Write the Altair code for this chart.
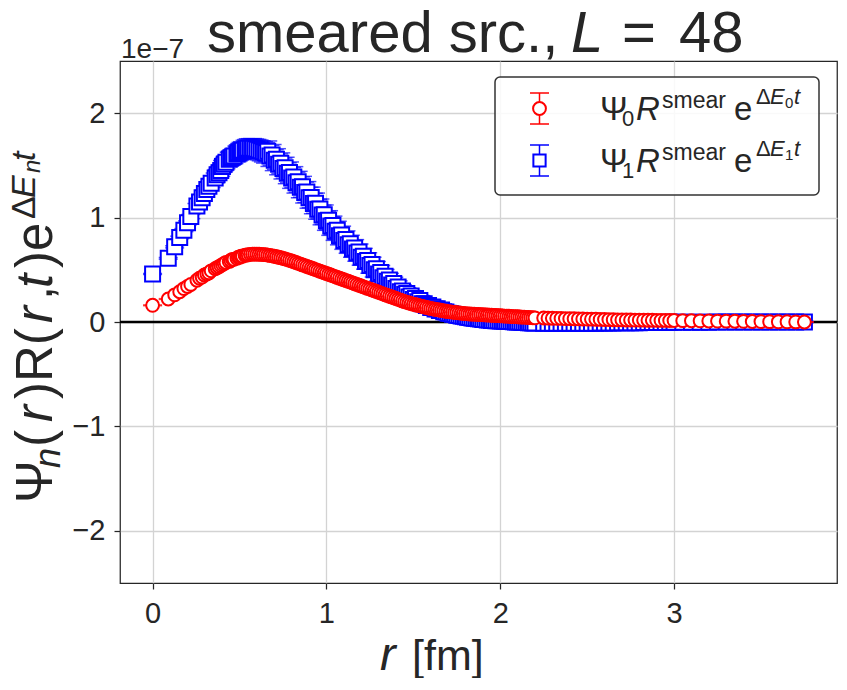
import altair as alt
import pandas as pd

# ---------------- data (values in units of 1e-7) ----------------
r_inner = [0.0, 0.09, 0.127, 0.156, 0.18, 0.201, 0.22, 0.255, 0.27, 0.285,
           0.298, 0.312, 0.324, 0.337, 0.36, 0.371, 0.382, 0.392, 0.402, 0.412,
           0.422, 0.441, 0.45, 0.459, 0.468, 0.485, 0.493, 0.501, 0.509, 0.517,
           0.532, 0.54]
r_mid = [0.55, 0.575, 0.6, 0.625, 0.65, 0.675, 0.7, 0.725, 0.75, 0.775,
         0.8, 0.825, 0.85, 0.875, 0.9, 0.925, 0.95, 0.975, 1.0, 1.025,
         1.05, 1.075, 1.1, 1.125, 1.15, 1.175, 1.2, 1.225, 1.25, 1.275,
         1.3, 1.325, 1.35, 1.375, 1.4, 1.425, 1.45, 1.475, 1.5, 1.525,
         1.55, 1.575, 1.6, 1.625, 1.65, 1.675, 1.7, 1.725, 1.75, 1.775,
         1.8, 1.825, 1.85, 1.875, 1.9, 1.925, 1.95, 1.975, 2.0, 2.025,
         2.05, 2.075, 2.1, 2.125, 2.15, 2.175, 2.2]
r_mid_b = [0.5625, 0.5875, 0.6125, 0.6375, 0.6625, 0.6875, 0.7125, 0.7375, 0.7625, 0.7875,
           0.8125, 0.8375, 0.8625, 0.8875, 0.9125, 0.9375, 0.9625, 0.9875, 1.0125, 1.0375,
           1.0625, 1.0875, 1.1125, 1.1375, 1.1625, 1.1875, 1.2125, 1.2375, 1.2625, 1.2875,
           1.3125, 1.3375, 1.3625, 1.3875, 1.4125, 1.4375, 1.4625, 1.4875, 1.5125, 1.5375,
           1.5625, 1.5875, 1.6125, 1.6375, 1.6625, 1.6875, 1.7125, 1.7375, 1.7625, 1.7875,
           1.8125, 1.8375, 1.8625, 1.8875, 1.9125, 1.9375, 1.9625, 1.9875, 2.0125, 2.0375,
           2.0625, 2.0875, 2.1125, 2.1375, 2.1625, 2.1875]
r_outer = [2.25, 2.3, 2.35, 2.4, 2.45, 2.5, 2.55, 2.6, 2.65, 2.7,
           2.75, 2.8, 2.85, 2.9, 2.95, 3.0, 3.05, 3.1, 3.15, 3.2,
           3.25, 3.3, 3.35, 3.4, 3.45, 3.5, 3.55, 3.6, 3.65, 3.7,
           3.75]
r_outer_b = [2.275, 2.325, 2.375, 2.425, 2.475, 2.525, 2.575, 2.625, 2.675, 2.725,
             2.775, 2.825, 2.875, 2.925, 2.975]

# Psi_0 R^smear e^{dE0 t}
psi0_inner = [0.16, 0.22, 0.26, 0.29, 0.32, 0.34, 0.36, 0.40, 0.42, 0.43,
              0.45, 0.46, 0.47, 0.49, 0.51, 0.52, 0.53, 0.54, 0.55, 0.56,
              0.57, 0.58, 0.59, 0.60, 0.60, 0.61, 0.62, 0.62, 0.63, 0.63,
              0.64, 0.64]
psi0_mid = [0.645, 0.65, 0.65, 0.648, 0.645, 0.638, 0.63, 0.62, 0.61, 0.598,
            0.585, 0.57, 0.555, 0.54, 0.525, 0.51, 0.495, 0.48, 0.465, 0.45,
            0.435, 0.42, 0.405, 0.39, 0.375, 0.36, 0.345, 0.33, 0.315, 0.30,
            0.285, 0.27, 0.255, 0.24, 0.225, 0.21, 0.195, 0.182, 0.17, 0.16,
            0.15, 0.14, 0.13, 0.122, 0.115, 0.107, 0.10, 0.095, 0.09, 0.085,
            0.08, 0.077, 0.075, 0.072, 0.07, 0.067, 0.065, 0.062, 0.06, 0.057,
            0.055, 0.052, 0.05, 0.047, 0.045, 0.042, 0.04]
psi0_mid_b = [0.648, 0.65, 0.649, 0.646, 0.641, 0.634, 0.625, 0.615, 0.604, 0.591,
              0.577, 0.562, 0.547, 0.532, 0.517, 0.502, 0.487, 0.472, 0.457, 0.442,
              0.427, 0.412, 0.397, 0.382, 0.367, 0.352, 0.337, 0.322, 0.307, 0.292,
              0.277, 0.262, 0.247, 0.232, 0.217, 0.202, 0.188, 0.176, 0.165, 0.155,
              0.145, 0.135, 0.126, 0.118, 0.111, 0.103, 0.097, 0.092, 0.087, 0.082,
              0.078, 0.076, 0.073, 0.071, 0.068, 0.066, 0.063, 0.061, 0.058, 0.056,
              0.053, 0.051, 0.048, 0.046, 0.043, 0.041]
psi0_outer = [0.038, 0.036, 0.034, 0.032, 0.03, 0.028, 0.026, 0.024, 0.022, 0.02,
              0.019, 0.018, 0.017, 0.016, 0.015, 0.014, 0.013, 0.012, 0.011, 0.01,
              0.009, 0.008, 0.007, 0.006, 0.005, 0.004, 0.003, 0.002, 0.002, 0.001,
              0.0]
psi0_outer_b = [0.037, 0.035, 0.033, 0.031, 0.029, 0.027, 0.025, 0.023, 0.021, 0.0195,
                0.0185, 0.0175, 0.0165, 0.0155, 0.0145]

err0_inner = [0.004, 0.004, 0.004, 0.004, 0.005, 0.005, 0.005, 0.005, 0.005, 0.005,
              0.006, 0.006, 0.006, 0.006, 0.006, 0.006, 0.007, 0.007, 0.007, 0.007,
              0.007, 0.007, 0.008, 0.008, 0.008, 0.008, 0.008, 0.008, 0.008, 0.008,
              0.009, 0.009]
err0_mid = [0.009, 0.009, 0.009, 0.01, 0.01, 0.01, 0.01, 0.01, 0.01, 0.01,
            0.01, 0.01, 0.01, 0.01, 0.01, 0.01, 0.01, 0.01, 0.01, 0.01,
            0.009, 0.009, 0.009, 0.009, 0.009, 0.009, 0.008, 0.008, 0.008, 0.008,
            0.008, 0.008, 0.007, 0.007, 0.007, 0.007, 0.007, 0.007, 0.006, 0.006,
            0.006, 0.006, 0.006, 0.006, 0.005, 0.005, 0.005, 0.005, 0.005, 0.005,
            0.005, 0.005, 0.004, 0.004, 0.004, 0.004, 0.004, 0.004, 0.004, 0.004,
            0.004, 0.004, 0.004, 0.004, 0.004, 0.004, 0.004]
err0_mid_b = [0.009, 0.009, 0.01, 0.01, 0.01, 0.01, 0.01, 0.01, 0.01, 0.01,
              0.01, 0.01, 0.01, 0.01, 0.01, 0.01, 0.01, 0.01, 0.01, 0.01,
              0.009, 0.009, 0.009, 0.009, 0.009, 0.008, 0.008, 0.008, 0.008, 0.008,
              0.008, 0.007, 0.007, 0.007, 0.007, 0.007, 0.007, 0.006, 0.006, 0.006,
              0.006, 0.006, 0.006, 0.005, 0.005, 0.005, 0.005, 0.005, 0.005, 0.005,
              0.005, 0.004, 0.004, 0.004, 0.004, 0.004, 0.004, 0.004, 0.004, 0.004,
              0.004, 0.004, 0.004, 0.004, 0.004, 0.004]
err0_outer = [0.004, 0.004, 0.004, 0.004, 0.003, 0.003, 0.003, 0.003, 0.003, 0.003,
              0.003, 0.003, 0.003, 0.003, 0.003, 0.003, 0.003, 0.003, 0.003, 0.003,
              0.002, 0.002, 0.002, 0.002, 0.002, 0.002, 0.002, 0.002, 0.002, 0.002,
              0.002]
err0_outer_b = [0.004, 0.004, 0.004, 0.004, 0.003, 0.003, 0.003, 0.003, 0.003, 0.003,
                0.003, 0.003, 0.003, 0.003, 0.003]

# Psi_1 R^smear e^{dE1 t}
psi1_inner = [0.46, 0.61, 0.72, 0.81, 0.88, 0.95, 1.01, 1.11, 1.15, 1.19,
              1.23, 1.27, 1.30, 1.33, 1.38, 1.41, 1.43, 1.45, 1.49, 1.51,
              1.53, 1.56, 1.57, 1.58, 1.59, 1.61, 1.62, 1.63, 1.64, 1.645,
              1.655, 1.66]
psi1_mid = [1.665, 1.665, 1.655, 1.64, 1.62, 1.59, 1.55, 1.51, 1.47, 1.425,
            1.38, 1.335, 1.29, 1.24, 1.19, 1.135, 1.08, 1.025, 0.97, 0.92,
            0.87, 0.825, 0.78, 0.74, 0.70, 0.66, 0.62, 0.58, 0.54, 0.50,
            0.46, 0.425, 0.39, 0.355, 0.32, 0.29, 0.265, 0.24, 0.215, 0.195,
            0.175, 0.157, 0.14, 0.125, 0.11, 0.097, 0.085, 0.075, 0.065, 0.057,
            0.05, 0.042, 0.035, 0.03, 0.025, 0.02, 0.015, 0.012, 0.01, 0.007,
            0.005, 0.002, 0.0, -0.002, -0.005, -0.007, -0.01]
psi1_mid_b = [1.665, 1.66, 1.648, 1.63, 1.635, 1.60, 1.56, 1.52, 1.478, 1.433,
              1.388, 1.343, 1.295, 1.245, 1.193, 1.138, 1.083, 1.028, 0.975, 0.925,
              0.878, 0.833, 0.79, 0.75, 0.71, 0.67, 0.63, 0.59, 0.55, 0.51,
              0.473, 0.438, 0.403, 0.368, 0.335, 0.298, 0.273, 0.248, 0.225, 0.205,
              0.176, 0.159, 0.143, 0.128, 0.114, 0.096, 0.082, 0.072, 0.063, 0.055,
              0.046, 0.039, 0.033, 0.028, 0.023, 0.018, 0.014, 0.011, 0.009, 0.006,
              0.004, 0.001, -0.001, -0.004, -0.006, -0.009]
psi1_outer = [-0.012, -0.013, -0.013, -0.013, -0.012, -0.012, -0.011, -0.01, -0.009, -0.008,
              -0.007, -0.006, -0.005, -0.005, -0.004, -0.003, -0.003, -0.002, -0.002, -0.002,
              -0.001, -0.001, -0.001, -0.001, 0.0, 0.0, 0.0, 0.0, 0.0, 0.0,
              0.0]
psi1_outer_b = [-0.012, -0.013, -0.013, -0.012, -0.012, -0.011, -0.01, -0.009, -0.008, -0.007,
                -0.006, -0.005, -0.005, -0.004, -0.003]

err1_inner = [0.005, 0.008, 0.01, 0.012, 0.015, 0.018, 0.02, 0.025, 0.028, 0.03,
              0.033, 0.036, 0.039, 0.042, 0.047, 0.05, 0.052, 0.055, 0.057, 0.06,
              0.062, 0.066, 0.068, 0.07, 0.072, 0.075, 0.077, 0.079, 0.08, 0.082,
              0.085, 0.087]
err1_mid = [0.09, 0.092, 0.094, 0.096, 0.098, 0.1, 0.1, 0.1, 0.1, 0.1,
            0.1, 0.1, 0.1, 0.1, 0.1, 0.098, 0.096, 0.094, 0.092, 0.09,
            0.088, 0.086, 0.084, 0.082, 0.08, 0.078, 0.076, 0.074, 0.072, 0.07,
            0.068, 0.066, 0.064, 0.062, 0.06, 0.058, 0.056, 0.054, 0.052, 0.05,
            0.049, 0.048, 0.047, 0.046, 0.045, 0.044, 0.043, 0.042, 0.041, 0.04,
            0.04, 0.039, 0.039, 0.038, 0.038, 0.037, 0.037, 0.036, 0.036, 0.035,
            0.035, 0.034, 0.034, 0.033, 0.033, 0.032, 0.032]
err1_mid_b = [0.091, 0.093, 0.095, 0.097, 0.099, 0.1, 0.1, 0.1, 0.1, 0.1,
              0.1, 0.1, 0.1, 0.1, 0.099, 0.097, 0.095, 0.093, 0.091, 0.089,
              0.087, 0.085, 0.083, 0.081, 0.079, 0.077, 0.075, 0.073, 0.071, 0.069,
              0.067, 0.065, 0.063, 0.061, 0.059, 0.057, 0.055, 0.053, 0.051, 0.05,
              0.049, 0.048, 0.047, 0.046, 0.045, 0.044, 0.043, 0.042, 0.041, 0.04,
              0.04, 0.039, 0.039, 0.038, 0.038, 0.037, 0.037, 0.036, 0.036, 0.035,
              0.035, 0.034, 0.034, 0.033, 0.033, 0.032]
err1_outer = [0.03, 0.029, 0.028, 0.027, 0.026, 0.025, 0.024, 0.022, 0.02, 0.019,
              0.018, 0.017, 0.016, 0.015, 0.014, 0.013, 0.012, 0.011, 0.01, 0.01,
              0.009, 0.009, 0.008, 0.008, 0.007, 0.007, 0.006, 0.006, 0.005, 0.005,
              0.005]
err1_outer_b = [0.03, 0.029, 0.028, 0.027, 0.026, 0.025, 0.023, 0.021, 0.02, 0.019,
                0.018, 0.017, 0.016, 0.015, 0.014]

x_ticks = [0, 1, 2, 3]
y_ticks = [-2, -1, 0, 1, 2]

# ---------------- build table ----------------
df = pd.DataFrame({
    "r": r_inner + r_mid + r_mid_b + r_outer + r_outer_b,
    "psi0": psi0_inner + psi0_mid + psi0_mid_b + psi0_outer + psi0_outer_b,
    "err0": err0_inner + err0_mid + err0_mid_b + err0_outer + err0_outer_b,
    "psi1": psi1_inner + psi1_mid + psi1_mid_b + psi1_outer + psi1_outer_b,
    "err1": err1_inner + err1_mid + err1_mid_b + err1_outer + err1_outer_b,
})
df = df.sort_values("r").reset_index(drop=True)
df["lo0"] = df["psi0"] - df["err0"]
df["hi0"] = df["psi0"] + df["err0"]
df["lo1"] = df["psi1"] - df["err1"]
df["hi1"] = df["psi1"] + df["err1"]

TXT = "#262626"
FONT = "Liberation Sans"

xs = alt.Scale(domain=[-0.1875, 3.9375], nice=False, zero=False)
ys = alt.Scale(domain=[-2.5, 2.5], nice=False, zero=False)
xax = alt.Axis(values=x_ticks, title=None, format="d", grid=True, labelPadding=10)
yax = alt.Axis(values=y_ticks, title=None, format="d", grid=True, labelPadding=9)


def X(field):
    return alt.X(f"{field}:Q", scale=xs, axis=xax)


def Y(field):
    return alt.Y(f"{field}:Q", scale=ys, axis=yax)


base = alt.Chart(df)

zero = alt.Chart(pd.DataFrame({"y0": [0]})).mark_rule(
    color="black", strokeWidth=2.5).encode(y=Y("y0"))


def series(val, lo, hi, color, shape, size):
    bars = base.mark_rule(color=color, strokeWidth=1.5).encode(
        x=X("r"), y=Y(lo), y2=alt.Y2(hi))
    cap_lo = base.mark_tick(color=color, orient="horizontal", size=19,
                            thickness=1.5).encode(x=X("r"), y=Y(lo))
    cap_hi = base.mark_tick(color=color, orient="horizontal", size=19,
                            thickness=1.5).encode(x=X("r"), y=Y(hi))
    pts = base.mark_point(shape=shape, filled=True, fill="white", stroke=color,
                          strokeWidth=2, size=size, opacity=1,
                          fillOpacity=1).encode(x=X("r"), y=Y(val))
    return [bars, cap_lo, cap_hi, pts]


layers = [zero]
layers += series("psi1", "lo1", "hi1", "blue", "square", 225)
layers += series("psi0", "lo0", "hi0", "red", "circle", 165)

one = pd.DataFrame({"k": [0]})


def txt(s, x, y, size, italic=False, angle=0, color=TXT):
    kw = dict(text=s, align="left", baseline="alphabetic", font=FONT,
              fontSize=size, color=color)
    if italic:
        kw["fontStyle"] = "italic"
    if angle:
        kw["angle"] = angle
    return alt.Chart(one).mark_text(**kw).encode(x=alt.value(x), y=alt.value(y))


# legend box and glyphs
legend_box = alt.Chart(one).mark_rect(
    fill="white", fillOpacity=0.85, stroke="#333333", strokeWidth=1.5,
    cornerRadius=5).encode(x=alt.value(375), x2=alt.value(699),
                           y=alt.value(16), y2=alt.value(134))
layers.append(legend_box)


def leg_glyph(cy, color, shape, size):
    out = []
    out.append(alt.Chart(one).mark_rule(color=color, strokeWidth=1.5).encode(
        x=alt.value(419.5), y=alt.value(cy - 15.5), y2=alt.value(cy + 15.5)))
    for dy in (-15.5, 15.5):
        out.append(alt.Chart(one).mark_rule(color=color, strokeWidth=1.5).encode(
            x=alt.value(410), x2=alt.value(429), y=alt.value(cy + dy)))
    out.append(alt.Chart(one).mark_point(
        shape=shape, filled=True, fill="white", stroke=color, strokeWidth=2,
        size=size, opacity=1).encode(x=alt.value(419.5), y=alt.value(cy)))
    return out


layers += leg_glyph(47.5, "red", "circle", 165)
layers += leg_glyph(99.5, "blue", "square", 150)

for sub, dy in (("0", 0), ("1", 52)):
    layers += [
        txt("Ψ", 480, 59 + dy, 33),
        txt(sub, 502, 65 + dy, 22),
        txt("R", 516, 59 + dy, 33, italic=True),
        txt("smear", 542, 47 + dy, 23),
        txt("e", 614, 59 + dy, 33),
        txt("Δ", 636, 43 + dy, 22),
        txt("E", 650, 43 + dy, 22, italic=True),
        txt(sub, 665, 47 + dy, 15),
        txt("t", 674, 43 + dy, 22, italic=True),
    ]

# title
layers += [
    txt("smeared src.,", 87, -9.5, 58),
    txt("L", 451, -9.5, 58, italic=True),
    txt("=", 502, -9.5, 58),
    txt("48", 559, -9.5, 58),
    txt("1e\u22127", 1, -3.5, 28),
]

# x-axis title
layers += [
    txt("r", 260, 609, 47, italic=True),
    txt("[fm]", 292, 609, 43),
]

# y-axis title (rotated)
A = 270
layers += [
    txt("Ψ", -68, 442, 51, angle=A),
    txt("n", -60, 407, 36, italic=True, angle=A),
    txt("(", -68, 386, 51, angle=A),
    txt("r", -68, 361, 51, italic=True, angle=A),
    txt(")R(", -68, 338, 51, angle=A),
    txt("r", -68, 262, 51, italic=True, angle=A),
    txt(",", -68, 239, 51, angle=A),
    txt("t", -68, 227, 51, italic=True, angle=A),
    txt(")e", -68, 207, 51, angle=A),
    txt("Δ", -85, 158, 34, angle=A),
    txt("E", -85, 137, 34, italic=True, angle=A),
    txt("n", -80, 112, 24, italic=True, angle=A),
    txt("t", -85, 100, 34, italic=True, angle=A),
]

chart = alt.layer(*layers).properties(
    width=717, height=522,
    autosize=alt.AutoSizeParams(type="none"),
    padding={"left": 112, "top": 53, "right": 2, "bottom": 95},
    background="white",
).configure_view(
    stroke=TXT, strokeWidth=1.25
).configure_axis(
    labelFont=FONT, labelFontSize=29, labelColor=TXT,
    tickColor=TXT, tickSize=6, tickWidth=1.25,
    domain=False, gridColor="#d3d3d3", gridWidth=1.3,
)

chart.save("out.html", embed_options={"renderer": "svg", "actions": False})
